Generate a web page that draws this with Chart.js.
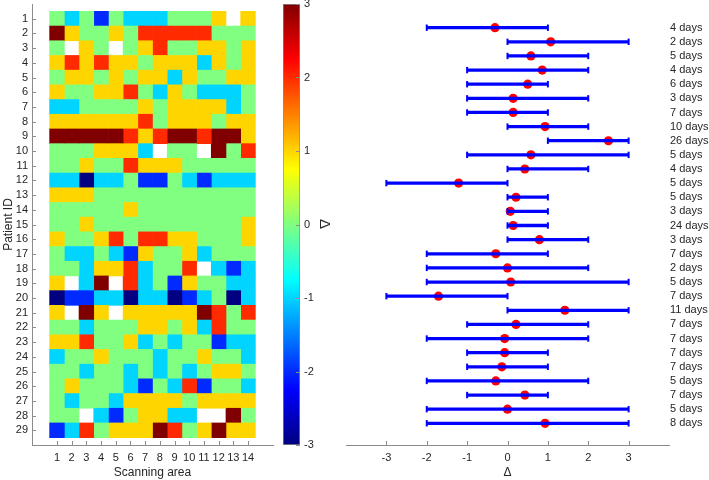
<!DOCTYPE html>
<html>
<head>
<meta charset="utf-8">
<script src="https://cdn.jsdelivr.net/npm/chart.js@4/dist/chart.umd.min.js"></script>
<style>
  html, body { margin: 0; padding: 0; background: #fff; }
  #wrap { position: relative; width: 709px; height: 480px; }
  #wrap canvas { position: absolute; left: 0; top: 0; }
  #cbarLabel {
    position: absolute; left: 317px; top: 215px; width: 16px; height: 18px;
    font: 15px 'Liberation Sans', Arial, sans-serif; color: #262626;
    text-align: center; line-height: 18px; transform: rotate(90deg);
  }
</style>
</head>
<body>
<div id="wrap">
  <canvas id="heat" width="709" height="480"></canvas>
  <canvas id="cbar" width="709" height="480"></canvas>
  <canvas id="errs" width="709" height="480"></canvas>
  <div id="cbarLabel">Δ</div>
</div>
<script>
// ---- data ----
const patients = [1, 2, 3, 4, 5, 6, 7, 8, 9, 10, 11, 12, 13, 14, 15, 16, 17, 18, 19, 20, 21, 22, 23, 24, 25, 26, 27, 28, 29];
const areas = [1, 2, 3, 4, 5, 6, 7, 8, 9, 10, 11, 12, 13, 14];
const deltaTicks = [-3, -2, -1, 0, 1, 2, 3];

// delta per patient (row) and scanning area (column); null = no measurement (white)
const delta = [
  [0, -1, 0, -2, 0, -1, -1, -1, 0, 0, 0, 1, null, 1],
  [3, 1, 0, 0, 1, 0, 2, 2, 2, 2, 2, 0, 0, 0],
  [0, null, 1, 0, null, 0, 1, 2, 0, 0, 1, 1, 0, 1],
  [1, 2, 1, 2, 1, 1, 0, 1, 1, 1, -1, 1, 0, 1],
  [0, 1, 1, 0, 1, 0, 1, 1, -1, 1, 0, 0, 1, 1],
  [1, 0, 0, 1, 1, 2, 0, -1, 1, 0, -1, -1, -1, 0],
  [-1, -1, 0, 0, 0, 0, 1, 0, 1, 1, 1, 1, -1, 0],
  [1, 1, 1, 1, 1, 1, 2, 0, 1, 1, 1, 0, 1, 1],
  [3, 3, 3, 3, 3, 2, 1, 2, 3, 3, 2, 3, 3, 1],
  [0, 0, 0, 1, 1, 1, -1, null, 0, 0, null, 3, 0, 2],
  [0, 0, 1, 0, 0, 2, 1, 1, 1, 0, 0, 0, 0, 0],
  [-1, -1, -3, -1, -1, 0, -2, -2, 0, -1, -2, -1, -1, -1],
  [1, 1, 1, 0, 0, 0, 0, 0, 0, 0, 0, 0, 0, 0],
  [0, 0, 0, 0, 0, 1, 0, 0, 0, 0, 0, 0, 0, 0],
  [0, 0, 1, 0, 0, 0, 0, 0, 0, 0, 0, 0, 0, 1],
  [1, 0, 0, 1, 2, 0, 2, 2, 1, 1, 0, 0, 0, 1],
  [0, -1, -1, 0, -1, -2, 1, 0, 0, 1, -1, 0, 0, 0],
  [0, 0, -1, 1, 1, 2, -1, 0, 0, 2, null, -1, -2, -1],
  [1, null, -1, 3, null, 2, -1, 0, -2, 1, 0, 0, -1, -1],
  [-3, -2, -2, -1, -1, -3, -1, -1, -3, -2, -1, 0, -3, -1],
  [1, null, 3, 1, null, 1, 1, 1, 1, 1, 3, 2, 0, 2],
  [0, 0, -1, 0, 0, 0, 1, 1, 0, 1, -1, 2, 0, 0],
  [1, 1, 2, 0, 0, 1, -1, 0, -1, 0, 0, -2, -1, -1],
  [-1, 0, 0, 1, 0, 0, 0, -1, 0, 0, 1, 0, 0, -1],
  [0, 0, -1, 0, 0, -1, 0, -1, 0, -1, 0, 1, 1, 0],
  [0, 1, 0, 0, 0, -1, -2, 0, -1, 2, -2, 0, 0, -1],
  [0, -1, 0, 0, -1, 1, 1, 1, 1, 0, 1, 1, 1, 1],
  [0, 0, null, -1, -2, 0, 1, 1, -1, -1, null, null, 3, 0],
  [-2, -1, 2, 0, 1, 1, 1, 3, 2, 0, 1, 3, 1, 1]
];

const meanDelta = [-0.31, 1.07, 0.58, 0.86, 0.50, 0.14, 0.14, 0.93, 2.50, 0.58, 0.43, -1.21, 0.21, 0.07, 0.14,
                   0.79, -0.29, 0.00, 0.08, -1.71, 1.42, 0.21, -0.07, -0.07, -0.14, -0.29, 0.43, 0.00, 0.93];
const minDelta = [-2, 0, 0, -1, -1, -1, -1, 0, 1, -1, 0, -3, 0, 0, 0, 0, -2, -2, -2, -3, 0, -1, -2, -1, -1, -2, -1, -2, -2];
const maxDelta = [1, 3, 2, 2, 1, 2, 1, 2, 3, 3, 2, 0, 1, 1, 1, 2, 1, 2, 3, 0, 3, 2, 2, 1, 1, 2, 1, 3, 3];
const stayDays = [4, 2, 5, 4, 6, 3, 7, 10, 26, 5, 4, 5, 5, 3, 24, 3, 7, 2, 5, 7, 11, 7, 7, 7, 7, 5, 7, 5, 8];

// ---- styling ----
const TEXT = '#262626';
const AXIS = '#8c8c8c';
const BLUE = '#0000ff';
const RED = '#ff0000';

Chart.defaults.font.family = "'Liberation Sans', Arial, sans-serif";
Chart.defaults.font.size = 11;
Chart.defaults.color = TEXT;
Chart.defaults.animation = false;
Chart.defaults.plugins.legend.display = false;
Chart.defaults.plugins.tooltip.enabled = false;

// MATLAB "jet" colormap over [-3, 3]
function jet(v) {
  const t = (v + 3) / 6;
  const c = k => Math.round(255 * Math.min(1, Math.max(0, 1.5 - Math.abs(4 * t - k))));
  return `rgb(${c(3)},${c(2)},${c(1)})`;
}

function jetGradient(chart) {
  const a = chart.chartArea;
  if (!a) return AXIS;
  const g = chart.ctx.createLinearGradient(0, a.bottom, 0, a.top);
  for (let i = 0; i <= 24; i++) g.addColorStop(i / 24, jet(-3 + 6 * i / 24));
  return g;
}

// fixed axis box sizes so the three canvases line up
function fixBox(w, h) {
  return scale => {
    if (w != null) scale.width = w;
    if (h != null) scale.height = h;
    scale.paddingTop = scale.paddingBottom = scale.paddingLeft = scale.paddingRight = 0;
  };
}
const setTicks = vals => scale => { scale.ticks = vals.map(v => ({ value: v })); };
const noGrid = { display: false, drawTicks: false };

// tick marks pointing into the plot, like MATLAB
const innerTicks = {
  id: 'innerTicks',
  afterDraw(chart, args, opts) {
    const { ctx, chartArea: area } = chart;
    ctx.save();
    ctx.strokeStyle = AXIS;
    ctx.lineWidth = 1;
    for (const { id, len, edge } of (opts.axes || [])) {
      const scale = chart.scales[id];
      for (const t of scale.ticks) {
        const p = Math.round(scale.getPixelForValue(t.value)) + 0.5;
        ctx.beginPath();
        if (scale.isHorizontal()) {
          ctx.moveTo(p, area.bottom);
          ctx.lineTo(p, area.bottom - len);
        } else {
          const x0 = edge === 'left' ? area.left : area.right;
          ctx.moveTo(x0, p);
          ctx.lineTo(edge === 'left' ? x0 + len : x0 - len, p);
        }
        ctx.stroke();
      }
    }
    ctx.restore();
  }
};

/* ---------- heat map ---------- */
new Chart(document.getElementById('heat'), {
  type: 'bar',
  data: {
    datasets: areas.map((a, j) => ({
      data: patients.map(p => ({ y: p, x: [a - 0.5, a + 0.5] })),
      backgroundColor: patients.map((p, i) => delta[i][j] == null ? 'rgba(0,0,0,0)' : jet(delta[i][j])),
      grouped: false,
      barPercentage: 1,
      categoryPercentage: 1,
      borderWidth: 0
    }))
  },
  options: {
    responsive: false,
    indexAxis: 'y',
    layout: { padding: { left: 0, top: 4, right: 436, bottom: 0 } },
    scales: {
      x: {
        type: 'linear', min: -0.7, max: 15.7, offset: false,
        afterBuildTicks: setTicks(areas),
        afterFit: fixBox(null, 35),
        grid: noGrid,
        border: { color: AXIS },
        ticks: { padding: 6, autoSkip: false, maxRotation: 0 },
        title: { display: true, text: 'Scanning area', font: { size: 12 }, padding: 0 }
      },
      y: {
        type: 'linear', min: 0, max: 30, reverse: true, offset: false,
        afterBuildTicks: setTicks(patients),
        afterFit: fixBox(32, null),
        grid: noGrid,
        border: { color: AXIS },
        ticks: { padding: 4, autoSkip: false },
        title: { display: true, text: 'Patient ID', font: { size: 12 }, padding: { top: 1, bottom: 0 } }
      }
    },
    plugins: { innerTicks: { axes: [{ id: 'x', len: 4 }, { id: 'y', len: 4, edge: 'left' }] } }
  },
  plugins: [innerTicks]
});

/* ---------- colour bar ---------- */
new Chart(document.getElementById('cbar'), {
  type: 'bar',
  data: {
    labels: [''],
    datasets: [{
      data: [[deltaTicks[0], deltaTicks[deltaTicks.length - 1]]],
      backgroundColor: ctx => jetGradient(ctx.chart),
      borderColor: AXIS,
      borderWidth: 1,
      borderSkipped: false,
      barPercentage: 1,
      categoryPercentage: 1
    }]
  },
  options: {
    responsive: false,
    layout: { padding: { left: 283, top: 4, right: 364, bottom: 35 } },
    scales: {
      x: { display: false },
      y: {
        type: 'linear', position: 'right', min: -3, max: 3,
        afterBuildTicks: setTicks(deltaTicks),
        afterFit: fixBox(45, null),
        grid: noGrid,
        border: { display: false },
        ticks: { padding: 4 }
      }
    },
    plugins: { innerTicks: { axes: [{ id: 'y', len: 4, edge: 'right' }] } }
  },
  plugins: [innerTicks]
});

/* ---------- mean delta with min/max range ---------- */
new Chart(document.getElementById('errs'), {
  type: 'scatter',
  data: {
    datasets: [
      {
        type: 'bar', indexAxis: 'y',
        data: patients.map((p, i) => ({ y: p, x: [minDelta[i], maxDelta[i]] })),
        backgroundColor: BLUE,
        barThickness: 2.6,
        borderWidth: 0,
        order: 0
      },
      {
        type: 'scatter',
        data: patients.flatMap((p, i) => [{ x: minDelta[i], y: p }, { x: maxDelta[i], y: p }]),
        pointStyle: 'line',
        pointRotation: 90,
        pointRadius: 3.2,
        pointBorderColor: BLUE,
        pointBorderWidth: 2,
        order: 0
      },
      {
        type: 'scatter',
        data: patients.map((p, i) => ({ x: meanDelta[i], y: p })),
        pointRadius: 4.6,
        pointBackgroundColor: RED,
        pointBorderWidth: 0,
        order: 1
      }
    ]
  },
  options: {
    responsive: false,
    layout: { padding: { left: 346, top: 4, right: 0, bottom: 0 } },
    scales: {
      x: {
        type: 'linear', min: -4, max: 4,
        afterBuildTicks: setTicks(deltaTicks),
        afterFit: fixBox(null, 35),
        grid: noGrid,
        border: { color: AXIS },
        ticks: { padding: 6 },
        title: { display: true, text: 'Δ', font: { size: 12 }, padding: 0 }
      },
      y: {
        type: 'linear', position: 'right', min: 0, max: 30, reverse: true,
        afterBuildTicks: setTicks(patients),
        afterFit: fixBox(40, null),
        grid: noGrid,
        border: { display: false },
        ticks: { padding: 1, autoSkip: false, callback: (v, i) => `${stayDays[i]} days` }
      }
    },
    plugins: { innerTicks: { axes: [{ id: 'x', len: 4 }] } }
  },
  plugins: [innerTicks]
});
</script>
</body>
</html>
